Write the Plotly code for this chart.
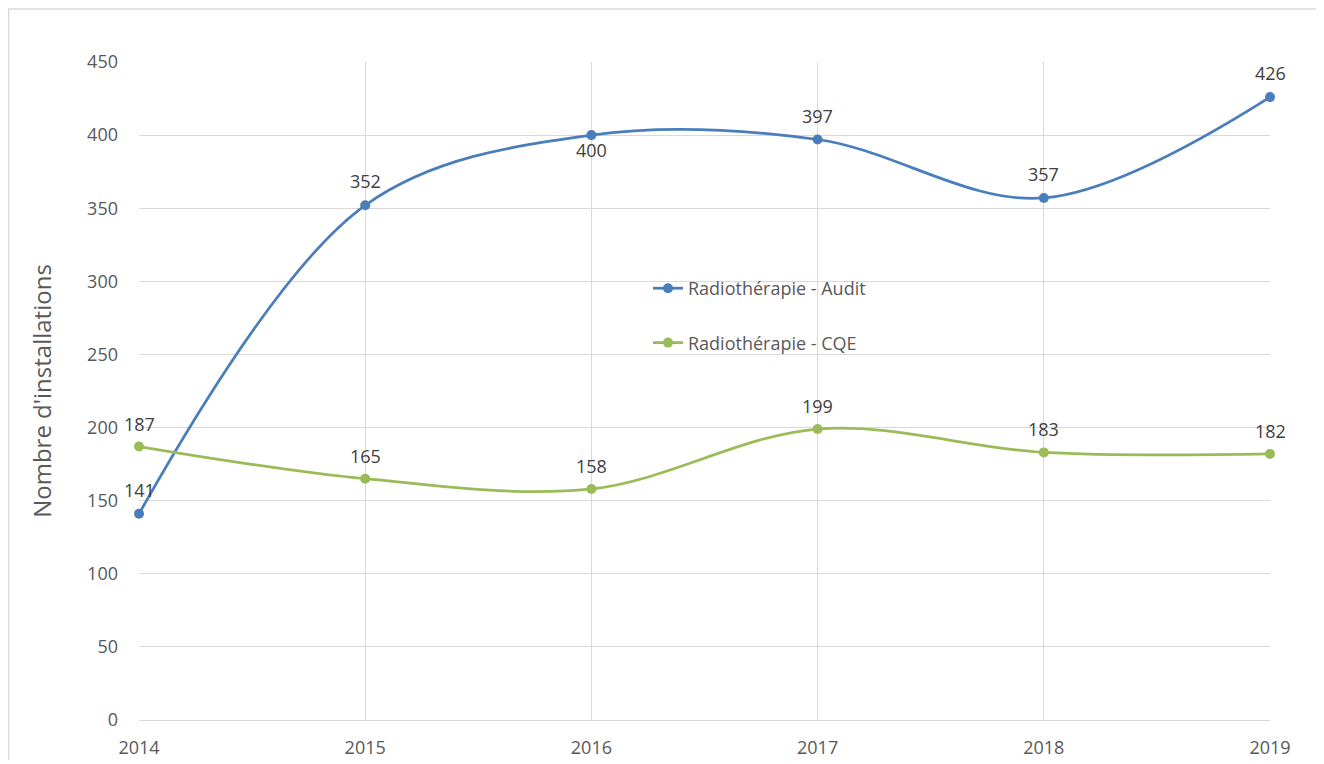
import plotly.graph_objects as go

years = [2014, 2015, 2016, 2017, 2018, 2019]
audit = [141, 352, 400, 397, 357, 426]
cqe = [187, 165, 158, 199, 183, 182]
audit_shift = [24, 24, -15, 24, 24, 24]
cqe_shift = [23, 23, 23, 23, 23, 23]

blue = "#4a7ebb"
green = "#9bbb59"
font = "Open Sans"
fs = 18

fig = go.Figure()
fig.add_trace(go.Scatter(
    x=years, y=audit, mode="lines+markers", name="Radiothérapie - Audit",
    line=dict(color=blue, width=2.75, shape="spline", smoothing=1.0),
    marker=dict(size=10, color=blue),
    cliponaxis=False, legendgroup="a",
))
fig.add_trace(go.Scatter(
    x=years, y=cqe, mode="lines+markers", name="Radiothérapie - CQE",
    line=dict(color=green, width=2.75, shape="spline", smoothing=1.0),
    marker=dict(size=10, color=green),
    cliponaxis=False, legendgroup="b",
))

annotations = []
for ys, shifts in ((audit, audit_shift), (cqe, cqe_shift)):
    for xv, yv, s in zip(years, ys, shifts):
        annotations.append(dict(x=xv, y=yv, text=str(yv), showarrow=False, yshift=s,
                                font=dict(size=fs, color="#404040", family=font)))

# page offset of 8px (body margin)
off = 8
W, H = 1308, 752
l, t = 139 - off, 62 - off
r = W + off - 1270
b = H + off - 720
pw, ph = W - l - r, H - t - b

fig.update_layout(
    width=W, height=H,
    margin=dict(l=l, r=r, t=t, b=b, autoexpand=False),
    paper_bgcolor="white", plot_bgcolor="white",
    font=dict(family=font, size=fs, color="#595959"),
    showlegend=True,
    annotations=annotations,
    legend=dict(x=(648 - 139) / pw, y=1 - (270 - 62) / ph, xanchor="left", yanchor="top",
                bgcolor="rgba(0,0,0,0)", tracegroupgap=28,
                font=dict(size=fs, color="#595959", family=font)),
    xaxis=dict(range=[2014, 2019], tickvals=years, ticktext=[str(y) for y in years],
               showgrid=True, gridcolor="#d9d9d9", gridwidth=1,
               showline=True, linecolor="#d9d9d9", linewidth=1, automargin=False,
               zeroline=False, ticks="", ticklen=0, ticklabelstandoff=11,
               tickfont=dict(size=fs, color="#595959", family=font)),
    yaxis=dict(range=[0, 450], dtick=50, showgrid=True, gridcolor="#d9d9d9", gridwidth=1,
               zeroline=False, showline=False, ticks="", ticklabelstandoff=20, automargin=False,
               tickfont=dict(size=fs, color="#595959", family=font),
               title=dict(text="Nombre d'installations", standoff=28,
                          font=dict(size=24, color="#595959", family=font))),
    shapes=[dict(type="rect", xref="paper", yref="paper",
                 x0=-l / pw + 0.0005, x1=1.2, y0=-0.2, y1=1 + (t - 1) / ph,
                 line=dict(color="#d9d9d9", width=1.5), fillcolor="rgba(0,0,0,0)", layer="below")],
)

fig.write_html("out.html")
